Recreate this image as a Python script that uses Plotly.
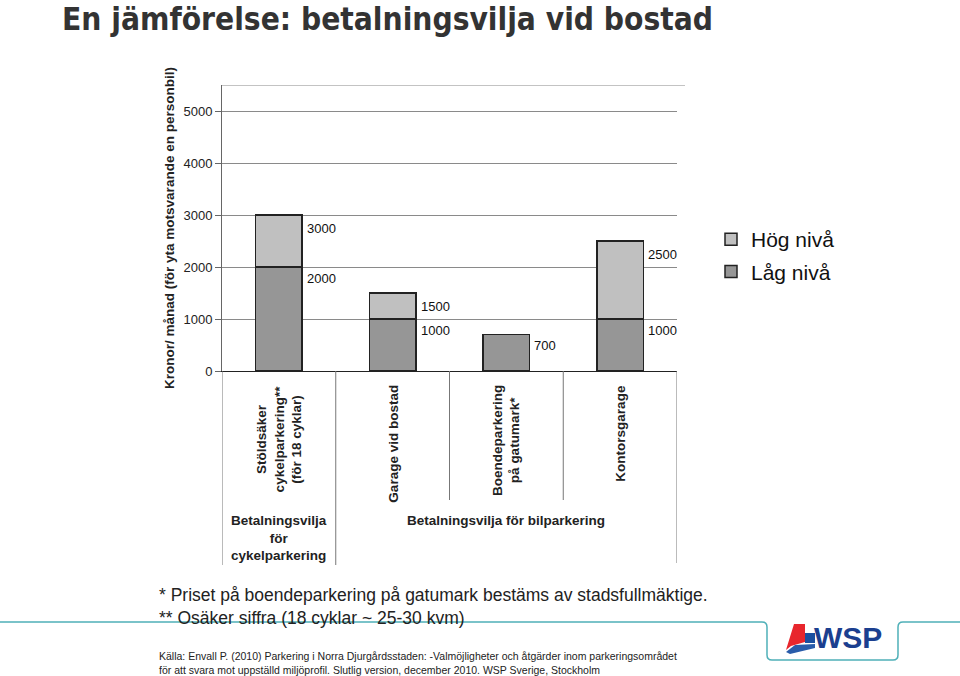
import plotly.graph_objects as go

# Data
categories = ["Stöldsäker<br>cykelparkering**<br>(för 18 cyklar)",
              "Garage vid bostad",
              "Boendeparkering<br>på gatumark*",
              "Kontorsgarage"]
lag_niva = [2000, 1000, 700, 1000]
hog_niva = [3000, 1500, None, 2500]
y_ticks = [0, 1000, 2000, 3000, 4000, 5000]
group_labels = ["Betalningsvilja<br>för<br>cykelparkering", "Betalningsvilja för bilparkering"]

FONT = "Liberation Sans, Arial, sans-serif"
DARK = "#969696"
LIGHT = "#c0c0c0"

# plot area in pixels (960x676 page)
PL, PR, PT, PB = 222, 677, 85, 371


def px(x):
    return (x - PL) / (PR - PL)


def py(y):
    return (PB - y) / (PB - PT)


x_idx = list(range(len(categories)))
hog_diff = [(h - l) if h is not None else None for h, l in zip(hog_niva, lag_niva)]

fig = go.Figure()
fig.add_trace(go.Bar(x=x_idx, y=lag_niva, name="Låg nivå", width=0.41,
                     marker=dict(color=DARK, line=dict(color="#222", width=1.5)),
                     legendgroup="lag", legendrank=2))
fig.add_trace(go.Bar(x=x_idx, y=hog_diff, name="Hög nivå", width=0.41,
                     marker=dict(color=LIGHT, line=dict(color="#222", width=1.5)),
                     legendgroup="hog", legendrank=1))

annotations = []
# value labels to the right of each segment
for i, (l, h) in enumerate(zip(lag_niva, hog_niva)):
    annotations.append(dict(x=i, y=l, xref="x", yref="y", text=str(l), showarrow=False,
                            xanchor="left", yanchor="middle", xshift=26, yshift=-11,
                            font=dict(family=FONT, size=13, color="#111")))
    if h is not None:
        annotations.append(dict(x=i, y=h, xref="x", yref="y", text=str(h), showarrow=False,
                                xanchor="left", yanchor="middle", xshift=26, yshift=-13,
                                font=dict(family=FONT, size=13, color="#111")))

# rotated category labels
for i, c in enumerate(categories):
    annotations.append(dict(x=i, y=py(383), xref="x", yref="paper", text="<b>%s</b>" % c,
                            showarrow=False, textangle=-90, xanchor="center", yanchor="top",
                            align="center", font=dict(family=FONT, size=13.5, color="#222")))

# group labels
annotations.append(dict(x=0, y=py(511), xref="x", yref="paper", text="<b>%s</b>" % group_labels[0],
                        showarrow=False, xanchor="center", yanchor="top", align="center",
                        font=dict(family=FONT, size=13.5, color="#222")))
annotations.append(dict(x=2, y=py(511), xref="x", yref="paper", text="<b>%s</b>" % group_labels[1],
                        showarrow=False, xanchor="center", yanchor="top", align="center",
                        font=dict(family=FONT, size=13.5, color="#222")))

# footnotes
annotations.append(dict(x=px(157), y=py(606), xref="paper", yref="paper",
                        text="* Priset på boendeparkering på gatumark bestäms av stadsfullmäktige.<br>"
                             "** Osäker siffra (18 cyklar ~ 25-30 kvm)",
                        showarrow=False, xanchor="left", yanchor="middle", align="left",
                        font=dict(family=FONT, size=17.5, color="#222")))
annotations.append(dict(x=px(157), y=py(662.5), xref="paper", yref="paper",
                        text="Källa: Envall P. (2010) Parkering i Norra Djurgårdsstaden: -Valmöjligheter och åtgärder inom parkeringsområdet<br>"
                             "för att svara mot uppställd miljöprofil. Slutlig version, december 2010. WSP Sverige, Stockholm",
                        showarrow=False, xanchor="left", yanchor="middle", align="left",
                        font=dict(family=FONT, size=10.5, color="#222")))
# WSP logo text
annotations.append(dict(x=px(812), y=py(637), xref="paper", yref="paper", text="<b>WSP</b>",
                        showarrow=False, xanchor="left", yanchor="middle",
                        font=dict(family=FONT, size=30, color="#1b3f8f")))

shapes = []
# top border of plot area
shapes.append(dict(type="line", xref="paper", yref="y", x0=0, x1=px(685), y0=5500, y1=5500,
                   line=dict(color="#888", width=1)))
# category dividers below axis
for b, bottom in zip([-0.5, 0.5, 1.5, 2.5, 3.5], [565, 565, 500, 500, 563]):
    shapes.append(dict(type="line", xref="x", yref="paper", x0=b, x1=b, y0=0, y1=py(bottom),
                       line=dict(color="#777", width=1)))


def path(points):
    return "M " + " L ".join("%f,%f" % (px(x), py(y)) for x, y in points) + " Z"


# teal divider line with box around the logo
teal = ("M %f,%f L %f,%f Q %f,%f %f,%f L %f,%f Q %f,%f %f,%f L %f,%f Q %f,%f %f,%f L %f,%f Q %f,%f %f,%f L %f,%f" % (
    px(0), py(622), px(762), py(622),
    px(767), py(622), px(767), py(627),
    px(767), py(655),
    px(767), py(660), px(772), py(660),
    px(893), py(660),
    px(898), py(660), px(898), py(655),
    px(898), py(627),
    px(898), py(622), px(903), py(622),
    px(960), py(622)))
shapes.append(dict(type="path", xref="paper", yref="paper", path=teal,
                   line=dict(color="#4fb0b8", width=1.5)))
# logo icon
shapes.append(dict(type="path", xref="paper", yref="paper",
                   path=path([(794, 624), (805, 624), (805, 642), (791, 646), (786, 650)]),
                   fillcolor="#e8262d", line=dict(width=0)))
shapes.append(dict(type="path", xref="paper", yref="paper",
                   path=path([(805, 633), (815, 633), (815, 643), (805, 643)]),
                   fillcolor="#1b4fa0", line=dict(width=0)))
shapes.append(dict(type="path", xref="paper", yref="paper",
                   path=path([(786, 652), (795, 645), (815, 644), (815, 648), (790, 654)]),
                   fillcolor="#2a5caa", line=dict(width=0)))

fig.update_layout(
    template="none",
    width=960, height=676,
    margin=dict(l=PL, r=960 - PR, t=PT, b=676 - PB, autoexpand=False),
    paper_bgcolor="white", plot_bgcolor="white",
    barmode="stack",
    title=dict(text="<b>En jämförelse: betalningsvilja vid bostad</b>",
               x=62 / 960, xanchor="left", xref="container",
               y=1 - 19 / 676, yanchor="middle",
               font=dict(family="DejaVu Sans Condensed, sans-serif",
                         size=31.4, color="#333")),
    xaxis=dict(range=[-0.5, 3.5], showticklabels=False, showgrid=False, zeroline=False,
               showline=True, linecolor="#222", linewidth=1, ticks=""),
    yaxis=dict(range=[0, 5500], tickvals=y_ticks, showgrid=True, gridcolor="#8a8a8a",
               gridwidth=1, zeroline=False, showline=True, linecolor="#666", linewidth=1,
               ticks="outside", ticklen=6, tickcolor="#666",
               tickfont=dict(family=FONT, size=13, color="#222"),
               title=dict(text="<b>Kronor/ månad (för yta motsvarande en personbil)</b>",
                          standoff=5, font=dict(family=FONT, size=13.5, color="#222")),
               automargin=False),
    showlegend=True,
    legend=dict(x=px(711), y=py(219), xanchor="left", yanchor="top",
                traceorder="grouped", tracegroupgap=2,
                font=dict(family=FONT, size=21, color="#111"), bgcolor="rgba(0,0,0,0)"),
    annotations=annotations,
    shapes=shapes,
)

# the page is exactly as large as the window, so drop the default body margin
fig.write_html("out.html", config={"displayModeBar": False},
               post_script="document.body.style.margin='0';")
